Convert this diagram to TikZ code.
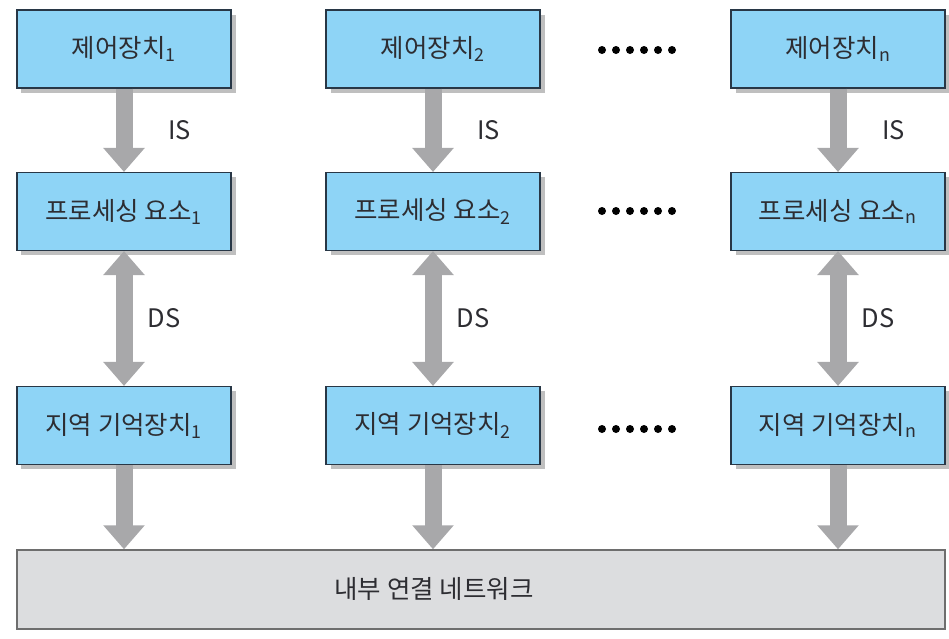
\documentclass[tikz,border=0pt]{standalone}
\usepackage{fontspec}
\setmainfont{Noto Sans CJK KR}
\usepackage{tikz}
\usetikzlibrary{arrows.meta, positioning, shadows}
\definecolor{pebox}{RGB}{142,212,246}
\definecolor{peline}{RGB}{40,55,70}
\definecolor{netfill}{RGB}{220,221,223}
\definecolor{netline}{RGB}{110,110,110}
\definecolor{busgray}{RGB}{168,168,170}
\definecolor{inkgray}{RGB}{45,45,50}

\begin{document}
\begin{tikzpicture}[
  every node/.style = {font=\fontsize{14.5pt}{17pt}\selectfont, text=inkgray},
  unit/.style = {
    rectangle, draw=peline, line width=0.6pt, fill=pebox,
    minimum width=4.28cm, minimum height=1.56cm,
    text centered, align=center,
    drop shadow={shadow xshift=0.09cm, shadow yshift=-0.09cm,
                 fill=black, opacity=0.25}
  },
  net/.style = {
    rectangle, draw=netline, line width=0.8pt, fill=netfill,
    minimum width=18.56cm, minimum height=1.58cm
  },
  arr/.style  = {-{Triangle[width=0.8cm, length=0.48cm]},
                 line width=0.34cm, color=busgray},
  darr/.style = {{Triangle[width=0.8cm, length=0.48cm]}-{Triangle[width=0.8cm, length=0.48cm]},
                 line width=0.34cm, color=busgray},
  lbl/.style  = {inner sep=0pt}
]
\useasboundingbox (0,0) rectangle (18.98,-12.78);

%% ── Row 0: control units ──────────────────────────────────────────────────
\node[unit] (cu1) at ( 2.48, -0.98) {제어장치\textsubscript{1}};
\node[unit] (cu2) at ( 8.66, -0.98) {제어장치\textsubscript{2}};
\node[unit] (cun) at (16.76, -0.98) {제어장치\textsubscript{n}};

%% ── Row 1: processing elements ────────────────────────────────────────────
\node[unit] (pe1) at ( 2.48, -4.23) {프로세싱 요소\textsubscript{1}};
\node[unit] (pe2) at ( 8.66, -4.23) {프로세싱 요소\textsubscript{2}};
\node[unit] (pen) at (16.76, -4.23) {프로세싱 요소\textsubscript{n}};

%% ── Row 2: local memories ─────────────────────────────────────────────────
\node[unit] (lm1) at ( 2.48, -8.51) {지역 기억장치\textsubscript{1}};
\node[unit] (lm2) at ( 8.66, -8.51) {지역 기억장치\textsubscript{2}};
\node[unit] (lmn) at (16.76, -8.51) {지역 기억장치\textsubscript{n}};

%% ── Row 3: interconnection network ────────────────────────────────────────
\node[net] (icn) at (9.62, -11.79) {};
\node (icnlbl) at (8.68, -11.77) {내부 연결 네트워크};

%% ── Ellipses between column 2 and column n ────────────────────────────────
\foreach \y/\nm in {-1.0/d0, -4.22/d1, -8.58/d2}{
  \coordinate (\nm) at (12.04, \y);
  \foreach \k in {0,...,5}
    \fill (\nm) ++(0.28*\k, 0) circle (0.08);
}

%% ── Instruction streams ───────────────────────────────────────────────────
\draw[arr] (cu1.south) -- node[lbl, right=0.72cm]{IS} (pe1.north);
\draw[arr] (cu2.south) -- node[lbl, right=0.72cm]{IS} (pe2.north);
\draw[arr] (cun.south) -- node[lbl, right=0.72cm]{IS} (pen.north);

%% ── Data streams ──────────────────────────────────────────────────────────
\draw[darr] (pe1.south) -- node[lbl, right=0.3cm]{DS} (lm1.north);
\draw[darr] (pe2.south) -- node[lbl, right=0.3cm]{DS} (lm2.north);
\draw[darr] (pen.south) -- node[lbl, right=0.3cm]{DS} (lmn.north);

%% ── Memories to network ───────────────────────────────────────────────────
\draw[arr] (lm1.south) -- (lm1.south |- icn.north);
\draw[arr] (lm2.south) -- (lm2.south |- icn.north);
\draw[arr] (lmn.south) -- (lmn.south |- icn.north);

\end{tikzpicture}
\end{document}
